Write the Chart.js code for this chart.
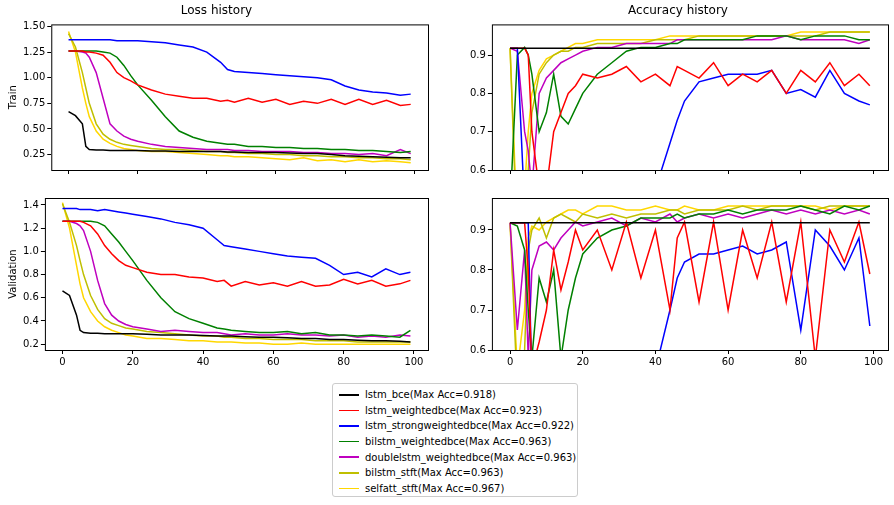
<!DOCTYPE html>
<html>
<head>
<meta charset="utf-8">
<script src="https://cdn.jsdelivr.net/npm/chart.js@4/dist/chart.umd.min.js"></script>
<style>
  body { margin: 0; background: #fff; font-family: "DejaVu Sans", sans-serif; }
  .box { position: absolute; }
  #legend { position: absolute; left: 332px; top: 383px; width: 246px; height: 114px; border: 1px solid #ccc; border-radius: 3px; font-size: 10px; padding: 3px 0 0 6px; box-sizing: border-box; }
  #legend div { height: 15.6px; display: flex; align-items: center; white-space: nowrap; }
  #legend span.l { display: inline-block; width: 20px; height: 1.5px; margin-right: 6px; }
</style>
</head>
<body>
<div class="box" style="left:0;top:0;width:436px;height:178px"><canvas id="c1"></canvas></div>
<div class="box" style="left:455px;top:0;width:436px;height:178px"><canvas id="c2"></canvas></div>
<div class="box" style="left:0;top:190px;width:436px;height:180px"><canvas id="c3"></canvas></div>
<div class="box" style="left:455px;top:190px;width:436px;height:180px"><canvas id="c4"></canvas></div>
<div id="legend"></div>
<script>
// epochs
const epochs = [0,2,4,5,6,8,10,12,14,16,18,20,24,28,32,36,40,44,46,48,52,56,60,64,68,72,76,80,84,88,92,96,99];

const names = ["lstm_bce(Max Acc=0.918)", "lstm_weightedbce(Max Acc=0.923)", "lstm_strongweightedbce(Max Acc=0.922)",
  "bilstm_weightedbce(Max Acc=0.963)", "doublelstm_weightedbce(Max Acc=0.963)", "bilstm_stft(Max Acc=0.963)", "selfatt_stft(Max Acc=0.967)"];
const colors = ["#000000", "#ff0000", "#0000ff", "#008000", "#bf00bf", "#bfbf00", "#ffd700"];

// train loss
const lossTrainBce = [0.67,0.63,0.55,0.33,0.30,0.295,0.295,0.29,0.29,0.29,0.29,0.29,0.285,0.285,0.28,0.28,0.28,0.28,0.275,0.275,0.27,0.27,0.27,0.265,0.26,0.26,0.25,0.24,0.235,0.23,0.225,0.22,0.22];
const lossTrainW = [1.26,1.26,1.26,1.25,1.25,1.24,1.22,1.15,1.05,1.0,0.97,0.93,0.88,0.84,0.82,0.80,0.80,0.77,0.78,0.76,0.80,0.76,0.79,0.74,0.77,0.75,0.79,0.74,0.79,0.74,0.78,0.73,0.74];
const lossTrainSW = [1.37,1.37,1.37,1.37,1.37,1.37,1.37,1.37,1.36,1.36,1.36,1.36,1.35,1.34,1.32,1.30,1.25,1.15,1.08,1.06,1.05,1.04,1.03,1.02,1.01,1.0,0.98,0.92,0.88,0.86,0.85,0.83,0.84];
const lossTrainBi = [1.26,1.26,1.26,1.26,1.26,1.26,1.25,1.24,1.20,1.12,1.02,0.93,0.78,0.62,0.48,0.42,0.38,0.36,0.35,0.35,0.33,0.33,0.32,0.32,0.31,0.31,0.30,0.30,0.29,0.29,0.28,0.27,0.28];
const lossTrainDbl = [1.26,1.26,1.25,1.24,1.20,1.05,0.80,0.55,0.48,0.43,0.40,0.38,0.35,0.33,0.32,0.31,0.30,0.30,0.30,0.29,0.29,0.28,0.28,0.28,0.27,0.27,0.26,0.26,0.25,0.26,0.24,0.30,0.26];
const lossTrainBiStft = [1.43,1.30,1.05,0.90,0.75,0.55,0.45,0.40,0.37,0.35,0.34,0.33,0.31,0.30,0.30,0.29,0.28,0.28,0.27,0.27,0.26,0.26,0.25,0.25,0.24,0.24,0.23,0.23,0.22,0.22,0.21,0.21,0.20];
const lossTrainAtt = [1.45,1.25,0.90,0.75,0.62,0.48,0.40,0.36,0.33,0.31,0.30,0.29,0.28,0.28,0.27,0.26,0.25,0.24,0.24,0.23,0.23,0.22,0.21,0.20,0.22,0.19,0.20,0.18,0.20,0.18,0.19,0.18,0.17];

// validation loss
const lossValBce = [0.66,0.62,0.45,0.32,0.30,0.295,0.295,0.29,0.29,0.29,0.29,0.29,0.285,0.28,0.28,0.28,0.275,0.27,0.27,0.27,0.265,0.26,0.26,0.255,0.25,0.25,0.24,0.24,0.235,0.23,0.23,0.225,0.22];
const lossValW = [1.26,1.26,1.26,1.26,1.25,1.22,1.15,1.05,0.98,0.92,0.88,0.86,0.82,0.80,0.80,0.78,0.77,0.74,0.75,0.70,0.74,0.71,0.73,0.70,0.74,0.70,0.71,0.76,0.72,0.75,0.70,0.72,0.75];
const lossValSW = [1.37,1.37,1.37,1.36,1.36,1.36,1.35,1.36,1.35,1.34,1.33,1.32,1.30,1.28,1.25,1.23,1.20,1.10,1.05,1.04,1.02,1.0,0.98,0.96,0.95,0.94,0.88,0.80,0.82,0.78,0.85,0.80,0.82];
const lossValBi = [1.26,1.26,1.26,1.26,1.26,1.26,1.25,1.22,1.15,1.08,1.00,0.92,0.75,0.60,0.48,0.42,0.38,0.34,0.33,0.32,0.31,0.30,0.30,0.31,0.29,0.30,0.28,0.28,0.27,0.28,0.27,0.26,0.32];
const lossValDbl = [1.26,1.26,1.24,1.22,1.18,1.0,0.75,0.55,0.45,0.40,0.37,0.35,0.33,0.31,0.32,0.31,0.30,0.30,0.29,0.28,0.29,0.28,0.28,0.29,0.28,0.28,0.27,0.28,0.26,0.27,0.26,0.28,0.27];
const lossValBiStft = [1.41,1.25,1.05,0.92,0.80,0.62,0.50,0.42,0.38,0.36,0.34,0.33,0.31,0.30,0.29,0.28,0.27,0.27,0.26,0.26,0.25,0.25,0.24,0.24,0.24,0.23,0.23,0.23,0.22,0.22,0.22,0.22,0.22];
const lossValAtt = [1.42,1.20,0.88,0.72,0.60,0.48,0.40,0.35,0.32,0.30,0.28,0.27,0.25,0.25,0.24,0.23,0.23,0.22,0.22,0.22,0.21,0.21,0.20,0.20,0.21,0.20,0.20,0.20,0.20,0.20,0.20,0.20,0.20];

// train accuracy
const accTrainBce = [0.918,0.918,0.918,0.918,0.918,0.918,0.918,0.918,0.918,0.918,0.918,0.918,0.918,0.918,0.918,0.918,0.918,0.918,0.918,0.918,0.918,0.918,0.918,0.918,0.918,0.918,0.918,0.918,0.918,0.918,0.918,0.918,0.918];
const accTrainW = [0.918,0.918,0.918,0.90,0.70,0.55,0.55,0.70,0.75,0.80,0.82,0.85,0.84,0.85,0.87,0.83,0.85,0.82,0.87,0.86,0.84,0.88,0.82,0.85,0.83,0.86,0.80,0.86,0.83,0.88,0.82,0.85,0.82];
const accTrainSW = [0.918,0.918,0.5,0.5,0.5,0.5,0.5,0.5,0.5,0.5,0.5,0.5,0.5,0.5,0.5,0.5,0.55,0.67,0.73,0.78,0.83,0.84,0.85,0.85,0.85,0.86,0.80,0.81,0.79,0.86,0.80,0.78,0.77];
const accTrainBi = [0.5,0.90,0.92,0.90,0.85,0.70,0.75,0.85,0.74,0.72,0.76,0.80,0.85,0.88,0.91,0.92,0.92,0.93,0.93,0.94,0.94,0.94,0.94,0.94,0.95,0.95,0.95,0.94,0.95,0.95,0.95,0.94,0.94];
const accTrainDbl = [0.918,0.91,0.70,0.65,0.55,0.80,0.84,0.86,0.88,0.89,0.90,0.91,0.92,0.92,0.93,0.93,0.93,0.93,0.94,0.94,0.94,0.94,0.94,0.94,0.94,0.94,0.95,0.94,0.94,0.94,0.94,0.93,0.94];
const accTrainBiStft = [0.918,0.40,0.50,0.60,0.75,0.85,0.88,0.90,0.91,0.91,0.92,0.92,0.93,0.93,0.93,0.93,0.94,0.94,0.94,0.94,0.95,0.95,0.95,0.95,0.95,0.95,0.95,0.95,0.95,0.96,0.96,0.96,0.96];
const accTrainAtt = [0.918,0.45,0.55,0.70,0.80,0.86,0.89,0.90,0.91,0.92,0.93,0.93,0.94,0.94,0.94,0.94,0.94,0.95,0.95,0.95,0.95,0.95,0.95,0.95,0.95,0.95,0.95,0.96,0.96,0.96,0.96,0.96,0.96];

// validation accuracy
const accValBce = accTrainBce.slice();
const accValW = [0.918,0.918,0.918,0.80,0.55,0.62,0.70,0.85,0.75,0.82,0.90,0.85,0.90,0.80,0.92,0.78,0.90,0.70,0.88,0.92,0.72,0.92,0.70,0.90,0.78,0.92,0.72,0.92,0.58,0.90,0.82,0.92,0.79];
const accValSW = [0.918,0.918,0.918,0.918,0.5,0.5,0.5,0.5,0.5,0.5,0.5,0.5,0.5,0.5,0.5,0.5,0.55,0.70,0.78,0.82,0.84,0.84,0.85,0.86,0.84,0.85,0.87,0.65,0.90,0.86,0.80,0.88,0.66];
const accValBi = [0.918,0.91,0.85,0.70,0.58,0.78,0.72,0.80,0.58,0.70,0.78,0.84,0.88,0.90,0.91,0.93,0.93,0.93,0.94,0.93,0.94,0.94,0.95,0.94,0.95,0.95,0.95,0.96,0.95,0.94,0.96,0.95,0.96];
const accValDbl = [0.918,0.65,0.85,0.58,0.80,0.86,0.87,0.85,0.88,0.90,0.92,0.91,0.92,0.93,0.91,0.93,0.92,0.94,0.92,0.93,0.94,0.93,0.94,0.93,0.94,0.95,0.94,0.95,0.94,0.95,0.94,0.95,0.94];
const accValBiStft = [0.918,0.50,0.60,0.85,0.90,0.93,0.88,0.93,0.94,0.93,0.92,0.94,0.93,0.94,0.93,0.94,0.94,0.95,0.95,0.94,0.95,0.95,0.95,0.96,0.95,0.96,0.96,0.96,0.95,0.96,0.96,0.96,0.96];
const accValAtt = [0.918,0.55,0.70,0.88,0.91,0.90,0.92,0.93,0.94,0.95,0.95,0.94,0.96,0.96,0.95,0.95,0.96,0.95,0.95,0.96,0.95,0.95,0.96,0.96,0.96,0.96,0.96,0.96,0.96,0.95,0.96,0.96,0.96];

const xTicks = [0,20,40,60,80,100];

// draws the full box around the plot area like matplotlib
const frame = {
  id: "frame",
  afterDraw(chart) {
    const a = chart.chartArea, ctx = chart.ctx;
    ctx.save();
    ctx.strokeStyle = "#000";
    ctx.lineWidth = 1;
    ctx.strokeRect(a.left + 0.5, a.top + 0.5, a.right - a.left, a.bottom - a.top);
    ctx.restore();
  }
};

function makeChart(id, series, opts) {
  const datasets = series.map((s, i) => ({
    label: names[i],
    data: epochs.map((e, j) => ({ x: e, y: s[j] })),
    borderColor: colors[i],
    borderWidth: 1.5,
    pointRadius: 0,
    tension: 0,
    fill: false
  }));
  new Chart(document.getElementById(id), {
    type: "line",
    data: { datasets: datasets },
    plugins: [frame],
    options: {
      responsive: true,
      maintainAspectRatio: false,
      animation: false,
      layout: { padding: { left: opts.padLeft, right: opts.padRight, top: 0, bottom: 0 } },
      plugins: {
        legend: { display: false },
        tooltip: { enabled: false },
        title: {
          display: !!opts.title,
          text: opts.title,
          color: "#000",
          font: { family: "DejaVu Sans", size: 12, weight: "normal" },
          padding: { top: 4, bottom: 6 }
        }
      },
      scales: {
        x: {
          type: "linear",
          min: -5, max: 104,
          afterBuildTicks: (ax) => { ax.ticks = xTicks.map(v => ({ value: v })); },
          grid: { display: true, drawOnChartArea: false, tickLength: 4, color: "#000" },
          border: { display: false },
          ticks: { display: opts.showX, color: "#000", font: { family: "DejaVu Sans", size: 10 }, maxRotation: 0, padding: 2 }
        },
        y: {
          min: opts.yMin, max: opts.yMax,
          afterBuildTicks: (ax) => { ax.ticks = opts.yTicks.map(v => ({ value: v })); },
          grid: { display: true, drawOnChartArea: false, tickLength: 4, color: "#000" },
          border: { display: false },
          title: { display: !!opts.yTitle, text: opts.yTitle, color: "#000", font: { family: "DejaVu Sans", size: 10 }, padding: 2 },
          ticks: {
            color: "#000", font: { family: "DejaVu Sans", size: 10 }, padding: 2,
            callback: (v) => opts.yFmt(v)
          }
        }
      }
    }
  });
}

makeChart("c1", [lossTrainBce, lossTrainW, lossTrainSW, lossTrainBi, lossTrainDbl, lossTrainBiStft, lossTrainAtt], {
  title: "Loss history", yTitle: "Train", showX: false, yMin: 0.1, yMax: 1.52,
  yTicks: [0.25,0.5,0.75,1.0,1.25,1.5], yFmt: v => v.toFixed(2), padLeft: 5, padRight: 8
});
makeChart("c2", [accTrainBce, accTrainW, accTrainSW, accTrainBi, accTrainDbl, accTrainBiStft, accTrainAtt], {
  title: "Accuracy history", yTitle: "", showX: false, yMin: 0.6, yMax: 0.98,
  yTicks: [0.6,0.7,0.8,0.9], yFmt: v => v.toFixed(1), padLeft: 13, padRight: 3
});
makeChart("c3", [lossValBce, lossValW, lossValSW, lossValBi, lossValDbl, lossValBiStft, lossValAtt], {
  title: "", yTitle: "Validation", showX: true, yMin: 0.15, yMax: 1.46,
  yTicks: [0.2,0.4,0.6,0.8,1.0,1.2,1.4], yFmt: v => v.toFixed(1), padLeft: 5, padRight: 8
});
makeChart("c4", [accValBce, accValW, accValSW, accValBi, accValDbl, accValBiStft, accValAtt], {
  title: "", yTitle: "", showX: true, yMin: 0.6, yMax: 0.98,
  yTicks: [0.6,0.7,0.8,0.9], yFmt: v => v.toFixed(1), padLeft: 13, padRight: 3
});

// legend below the plots
const legend = document.getElementById("legend");
names.forEach((n, i) => {
  const row = document.createElement("div");
  row.innerHTML = '<span class="l" style="background:' + colors[i] + '"></span>' + n;
  legend.appendChild(row);
});
</script>
</body>
</html>
